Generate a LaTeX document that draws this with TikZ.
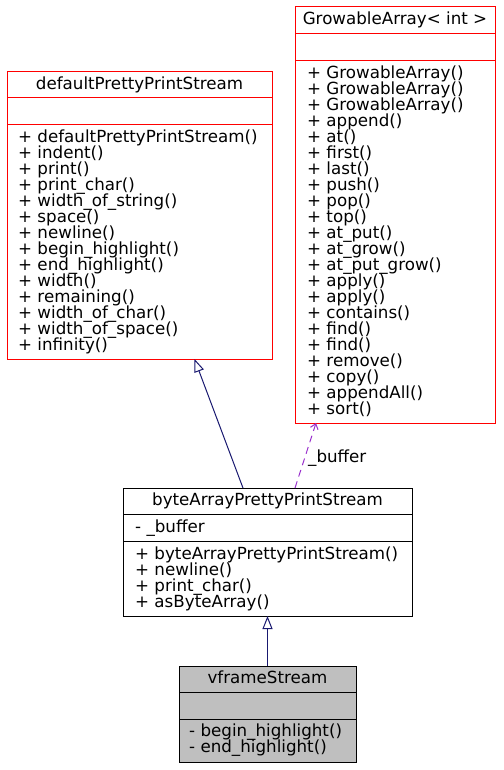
\documentclass[tikz,border=0pt]{standalone}
\usepackage{fontspec}
\usepackage{tikz}
\usetikzlibrary{arrows.meta}
\newfontfamily\umlfont{DejaVu Sans}
\newcommand{\umlsize}{\umlfont\fontsize{16.7}{16}\selectfont\lineskiplimit=-10pt}
\definecolor{EdgeBlue}{RGB}{25, 25, 112}
\definecolor{UsePurple}{RGB}{154, 50, 205}
\definecolor{BoxGray}{RGB}{191, 191, 191}

\tikzset{
  classbox/.style={draw=#1, line width=1pt, inner sep=0pt, outer sep=0pt},
  classname/.style={font=\umlsize, inner sep=0pt, anchor=base},
  members/.style={font=\umlsize, align=left, inner sep=0pt, anchor=north west},
  inherit/.style={draw=EdgeBlue, line width=1pt, -{Triangle[open, length=13pt, width=10pt]}},
  uses/.style={draw=UsePurple, line width=1pt, dash pattern=on 7pt off 5pt, -{Straight Barb[length=5pt, width=8pt]}}
}

\begin{document}
\begin{tikzpicture}[x=1pt, y=-1pt]
    \useasboundingbox (0,0) rectangle (503,770);

    % defaultPrettyPrintStream
    \node[classbox=red, minimum width=265, minimum height=287] (dpps) at (139.5, 215.5) {};
    \draw[red, line width=1pt] ([yshift=-26pt]dpps.north west) -- ([yshift=-26pt]dpps.north east);
    \draw[red, line width=1pt] ([yshift=-53pt]dpps.north west) -- ([yshift=-53pt]dpps.north east);
    \node[classname] (dpps-name) at ([yshift=-17.3pt]dpps.north) {defaultPrettyPrintStream};
    \node[members] (dpps-ops) at ([xshift=11pt, yshift=-58pt]dpps.north west)
      {+ defaultPrettyPrintStream()\\+ indent()\\+ print()\\+ print\_char()\\+ width\_of\_string()\\+ space()\\+ newline()\\+ begin\_highlight()\\+ end\_highlight()\\+ width()\\+ remaining()\\+ width\_of\_char()\\+ width\_of\_space()\\+ infinity()};

    % GrowableArray< int >
    \node[classbox=red, minimum width=200, minimum height=416] (grow) at (395, 215) {};
    \draw[red, line width=1pt] ([yshift=-27pt]grow.north west) -- ([yshift=-27pt]grow.north east);
    \draw[red, line width=1pt] ([yshift=-54pt]grow.north west) -- ([yshift=-54pt]grow.north east);
    \node[classname] (grow-name) at ([yshift=-18pt]grow.north) {GrowableArray< int >};
    \node[members] (grow-ops) at ([xshift=12pt, yshift=-59pt]grow.north west)
      {+ GrowableArray()\\+ GrowableArray()\\+ GrowableArray()\\+ append()\\+ at()\\+ first()\\+ last()\\+ push()\\+ pop()\\+ top()\\+ at\_put()\\+ at\_grow()\\+ at\_put\_grow()\\+ apply()\\+ apply()\\+ contains()\\+ find()\\+ find()\\+ remove()\\+ copy()\\+ appendAll()\\+ sort()};

    % byteArrayPrettyPrintStream
    \node[classbox=black, minimum width=289, minimum height=128] (byte) at (267.5, 552) {};
    \draw[line width=1pt] ([yshift=-26pt]byte.north west) -- ([yshift=-26pt]byte.north east);
    \draw[line width=1pt] ([yshift=-53pt]byte.north west) -- ([yshift=-53pt]byte.north east);
    \node[classname] (byte-name) at ([yshift=-17.3pt]byte.north) {byteArrayPrettyPrintStream};
    \node[members] (byte-attr) at ([xshift=12pt, yshift=-31.3pt]byte.north west) {- \_buffer};
    \node[members] (byte-ops) at ([xshift=12pt, yshift=-58.5pt]byte.north west)
      {+ byteArrayPrettyPrintStream()\\+ newline()\\+ print\_char()\\+ asByteArray()};

    % vframeStream
    \node[classbox=black, fill=BoxGray, minimum width=177, minimum height=96] (vfs) at (267.5, 714) {};
    \draw[line width=1pt] ([yshift=-26pt]vfs.north west) -- ([yshift=-26pt]vfs.north east);
    \draw[line width=1pt] ([yshift=-53pt]vfs.north west) -- ([yshift=-53pt]vfs.north east);
    \node[classname] (vfs-name) at ([yshift=-17.3pt]vfs.north) {vframeStream};
    \node[members] (vfs-ops) at ([xshift=10pt, yshift=-58pt]vfs.north west)
      {- begin\_highlight()\\- end\_highlight()};

    % Relations
    \draw[inherit] ([xshift=-24.5pt]byte.north) -- ([xshift=55pt]dpps.south);
    \draw[inherit] (vfs.north) -- (byte.south);
    \draw[uses] ([xshift=27.5pt]byte.north) -- node[pos=0.46, anchor=west, xshift=3pt, font=\umlsize, inner sep=0pt] (buf-label) {\_buffer} ([xshift=-79pt]grow.south);
\end{tikzpicture}
\end{document}
